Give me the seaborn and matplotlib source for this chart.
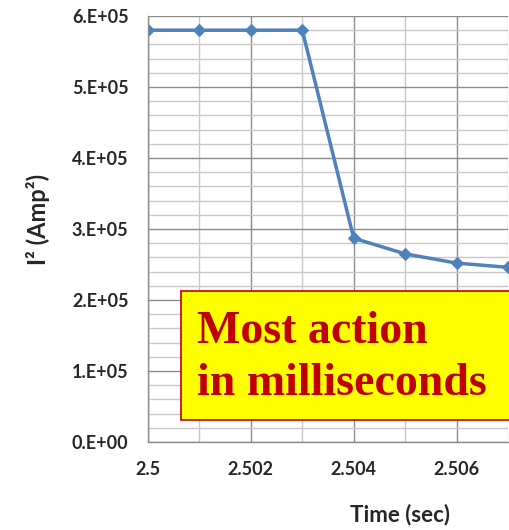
import matplotlib
matplotlib.use("Agg")
import matplotlib.pyplot as plt
import seaborn as sns
import pandas as pd
from matplotlib.ticker import MultipleLocator, FixedLocator
from matplotlib.patches import Rectangle

time_sec = [2.500, 2.501, 2.502, 2.503, 2.504, 2.505, 2.506, 2.507, 2.508]
i2_amp2 = [5.8e5, 5.8e5, 5.8e5, 5.8e5, 2.87e5, 2.65e5, 2.52e5, 2.46e5, 2.42e5]
x_ticks = [2.5, 2.502, 2.504, 2.506]
x_tick_labels = ["2.5", "2.502", "2.504", "2.506"]
y_ticks = [0, 1e5, 2e5, 3e5, 4e5, 5e5, 6e5]
y_tick_labels = ["0.E+00", "1.E+05", "2.E+05", "3.E+05", "4.E+05", "5.E+05", "6.E+05"]

df = pd.DataFrame({"t": time_sec, "i2": i2_amp2})

sns.set_style("white")
plt.rcParams["font.family"] = ["Lato", "DejaVu Sans"]

fig = plt.figure(figsize=(5.1, 5.3), dpi=100)
ax = fig.add_axes([148/510, (530-442)/530, (508-148)/510, (442-16)/530])

ax.set_xlim(2.5, 2.507)
ax.set_ylim(0, 6e5)

ax.xaxis.set_major_locator(FixedLocator(x_ticks))
ax.xaxis.set_minor_locator(MultipleLocator(0.001))
ax.yaxis.set_major_locator(FixedLocator(y_ticks))
ax.yaxis.set_minor_locator(MultipleLocator(2e4))
ax.set_xticklabels(x_tick_labels, fontweight="bold", fontsize=13)
ax.set_yticklabels(y_tick_labels, fontweight="bold", fontsize=13)

ax.grid(which="major", color="#8c8c8c", linewidth=1.0)
ax.grid(which="minor", color="#c8c8c8", linewidth=1.0)
ax.set_axisbelow(True)

sns.lineplot(data=df, x="t", y="i2", ax=ax, color="#4F81BD", linewidth=2.5,
             marker="D", markersize=6, markeredgecolor="#4F81BD", clip_on=True)

for s in ["top", "right"]:
    ax.spines[s].set_visible(False)
for s in ["left", "bottom"]:
    ax.spines[s].set_color("#8c8c8c")
    ax.spines[s].set_linewidth(1.0)

ax.tick_params(axis="both", which="major", direction="out", length=6, color="#8c8c8c", width=1, pad=8)
ax.tick_params(axis="y", which="minor", length=0)
ax.tick_params(axis="x", which="minor", length=0)

ax.set_xlabel("")
ax.set_ylabel("")
fig.text(400/510, 1 - 515/530, "Time (sec)", ha="center", va="center", fontsize=16, fontweight="bold")
fig.text(38/510, 1 - 219/530, "I² (Amp²)", ha="center", va="center", fontsize=17, fontweight="bold", rotation=90)

rect = Rectangle((181/510, (530-420)/530), 0.7, 129/530, transform=fig.transFigure,
                 facecolor="#FFFF00", edgecolor="#C00000", linewidth=1.2, zorder=10)
fig.patches.append(rect)
fig.text(197/510, 1 - 332/530, "Most action", ha="left", va="center", fontsize=33,
         fontweight="bold", color="#C00000", family="Liberation Serif", zorder=11)
fig.text(197/510, 1 - 384/530, "in milliseconds", ha="left", va="center", fontsize=33,
         fontweight="bold", color="#C00000", family="Liberation Serif", zorder=11)

fig.savefig("out.png", dpi=100)
